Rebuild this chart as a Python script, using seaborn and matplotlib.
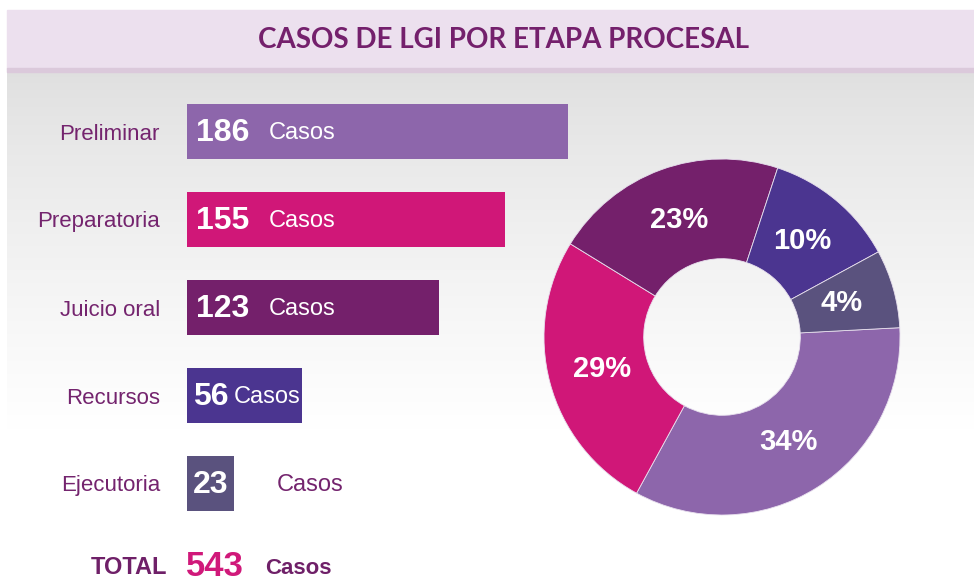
import numpy as np
import pandas as pd
import matplotlib
matplotlib.use("Agg")
import matplotlib.pyplot as plt
import seaborn as sns
from matplotlib.patches import Rectangle

# -----------------------------
# DATA
# -----------------------------
etapas = ["Preliminar", "Preparatoria", "Juicio oral", "Recursos", "Ejecutoria"]
casos = [186, 155, 123, 56, 23]
colores = ["#8d66ab", "#d01778", "#74206b", "#4b3590", "#5a527e"]
# donut: wedge sizes as drawn in the picture, and the printed labels
sectores = [33.8, 25.8, 21.3, 12.0, 7.1]
pct_labels = ["34%", "29%", "23%", "10%", "4%"]
titulo = "CASOS DE LGI POR ETAPA PROCESAL"

total = sum(casos)
df = pd.DataFrame({"etapa": etapas, "casos": casos})

W, H = 974, 581
sns.set_theme(style="white")
plt.rcParams["font.family"] = ["Liberation Sans", "DejaVu Sans"]

fig = plt.figure(figsize=(W / 100, H / 100), dpi=100)


def px_axes(x0, y0, w, h):
    # pixel box (top-left origin) -> figure fraction
    return fig.add_axes([x0 / W, 1 - (y0 + h) / H, w / W, h / H])


# -----------------------------
# BACKGROUND
# -----------------------------
bg = fig.add_axes([0, 0, 1, 1])
bg.set_xlim(0, W)
bg.set_ylim(H, 0)
bg.axis("off")
grad = np.linspace(0, 1, 256).reshape(-1, 1)
top_c = np.array([0.875, 0.875, 0.875])
img = top_c + (1 - top_c) * grad[..., None] ** 0.8
img = np.repeat(img, 2, axis=1)
bg.imshow(img, extent=[7, W, 430, 72], aspect="auto", zorder=0)
bg.add_patch(Rectangle((7, 10), W - 7, 59, color="#ece0ee", zorder=1))
bg.add_patch(Rectangle((7, 68), W - 7, 4, color="#dbc9db", zorder=1))
bg.text(504, 40, titulo, ha="center", va="center", fontsize=20,
        fontweight="bold", color="#74206c", family=["Lato", "DejaVu Sans"])

# -----------------------------
# BARS
# -----------------------------
px_per_unit = 2.05
ax = px_axes(187, 87.5, 200 * px_per_unit, 440)
sns.barplot(data=df, x="casos", y="etapa", hue="etapa", palette=colores,
            orient="h", width=0.625, legend=False, ax=ax, saturation=1,
            linewidth=0, edgecolor="none")
ax.set_xlim(0, 200)
ax.set_ylim(4.5, -0.5)
ax.set_xlabel("")
ax.set_ylabel("")
ax.set_xticks([])
ax.patch.set_alpha(0)
for s in ax.spines.values():
    s.set_visible(False)
ax.tick_params(axis="y", length=0, pad=19.5, labelsize=16, labelcolor="#74246e")

for i, v in enumerate(casos):
    big = v >= 100
    num_off = 9 if big else 6
    ax.annotate(str(v), xy=(0, i), xytext=(num_off * 0.72, -1),
                textcoords="offset points", ha="left", va="center",
                fontsize=23, fontweight="bold", color="white")
    casos_off = num_off + (54 + 19 if big else 36 + 5)
    bar_end = v * px_per_unit
    if bar_end >= casos_off + 64:
        ax.annotate("Casos", xy=(0, i), xytext=(casos_off * 0.72, -1),
                    textcoords="offset points", ha="left", va="center",
                    fontsize=17, color="white")
    else:
        ax.annotate("Casos", xy=(0, i), xytext=(90 * 0.72, -1),
                    textcoords="offset points", ha="left", va="center",
                    fontsize=17, color="#74246e")

# total row
bg.text(167, 568, "TOTAL", ha="right", va="center", fontsize=17,
        fontweight="bold", color="#6f2068")
bg.text(186, 566, str(total), ha="left", va="center", fontsize=25,
        fontweight="bold", color="#d0197a")
bg.text(265, 568, "Casos", ha="left", va="center", fontsize=16,
        fontweight="bold", color="#6f2068")

# -----------------------------
# DONUT
# -----------------------------
lbl_iter = iter(pct_labels)
ax2 = px_axes(544, 159, 356, 356)
wedges, _, autotexts = ax2.pie(
    sectores, colors=colores, startangle=3, counterclock=False, radius=1,
    autopct=lambda p: next(lbl_iter), pctdistance=0.7,
    wedgeprops=dict(width=0.56, edgecolor="#e8e0ee", linewidth=0.6),
    textprops=dict(color="white", fontsize=21, fontweight="bold"))
ax2.set_xlim(-1, 1)
ax2.set_ylim(-1, 1)
ax2.set_aspect("equal")
ax2.axis("off")

fig.savefig("out.png", dpi=100)
